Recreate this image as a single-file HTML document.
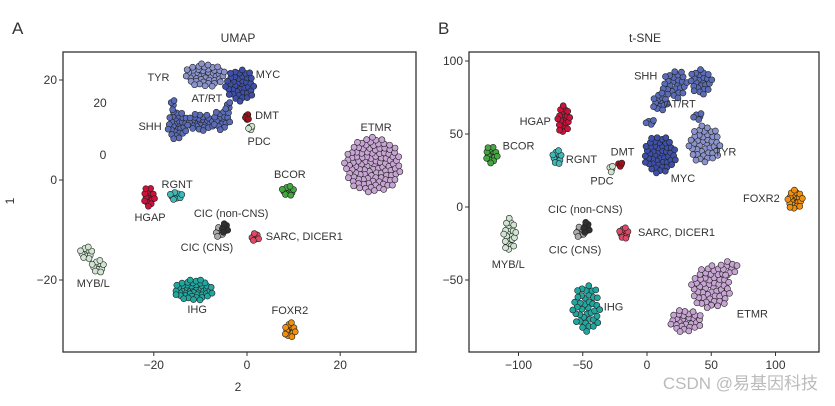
<!DOCTYPE html>
<html><head><meta charset="utf-8">
<style>
body{margin:0;background:#fff;width:835px;height:401px;overflow:hidden}
svg text{font-family:"Liberation Sans","Noto Sans CJK SC",sans-serif;fill:#333}
</style></head>
<body>
<svg id="c" width="835" height="401" viewBox="0 0 835 401">
<text x="12" y="34" font-size="17">A</text>
<text x="438" y="34" font-size="17">B</text>
<text x="238" y="42" font-size="12" text-anchor="middle">UMAP</text>
<text x="645" y="42" font-size="12" text-anchor="middle">t-SNE</text>
<text x="238" y="391" font-size="12" text-anchor="middle">2</text>
<text x="14" y="201" font-size="12" text-anchor="middle" transform="rotate(-90 14 201)">1</text>
<text x="100" y="107" font-size="12" text-anchor="middle">20</text>
<text x="103" y="159" font-size="12" text-anchor="middle">0</text>
<text x="818" y="389" font-size="17" text-anchor="end" style="fill:#bbb">CSDN @易基因科技</text>
<g id="pa"></g>
<g id="pb"></g>
</svg>
<script>
// UMAP data: blobs [group, cx, cy, rx, ry, n, color]
const umapBlobs = [
 ["TYR",-9,21,4.4,2.4,45,"#8b93cc"],
 ["MYC",-1.5,19,3.2,3.4,40,"#3d4fa8"],
 ["SHH",-15,11,2.2,3,30,"#5a6cb8"],
 ["SHH",-10,11.5,3,1.8,28,"#5a6cb8"],
 ["SHH",-5.5,12,2,2,16,"#5a6cb8"],
 ["SHH",-16,15,0.6,1.2,4,"#5a6cb8"],
 ["SHH",-4,14.5,0.6,1.5,5,"#5a6cb8"],
 ["DMT",0,12.6,0.4,0.8,6,"#a0101c"],
 ["PDC",0.8,10.4,0.5,0.5,5,"#cfe3cf"],
 ["ETMR",27,3,6.2,5.6,110,"#c8a4d4"],
 ["BCOR",8.8,-2.2,1.5,1,12,"#44a840"],
 ["HGAP",-21,-3.3,1.3,2,16,"#d0103c"],
 ["RGNT",-15.2,-3.2,1.4,0.9,10,"#40b8b8"],
 ["CIC-CNS",-5.9,-10.4,1,1.1,9,"#aaaaaa"],
 ["CIC-nonCNS",-4.7,-9.6,0.8,1,8,"#303030"],
 ["SARC",1.8,-11.4,1,0.8,8,"#e04868"],
 ["MYBL",-34.5,-14.6,1.5,1.3,12,"#cfe5d2"],
 ["MYBL",-32,-17.3,1.5,1.3,12,"#cfe5d2"],
 ["IHG",-11.5,-22,4.2,2.2,48,"#20a8a0"],
 ["FOXR2",9.2,-30,1.2,1.7,14,"#f0900c"]
];
const umapLabels = [["TYR",-19,20.6],["MYC",4.5,21.2],["AT/RT",-8.6,16.4],["SHH",-20.8,10.8],["DMT",4.3,13],["PDC",2.6,7.8],["ETMR",27.7,10.6],["BCOR",9.2,1.2],["RGNT",-15,-0.8],["HGAP",-20.8,-7.4],["CIC (non-CNS)",-3.4,-6.6],["SARC, DICER1",12.3,-11.2],["CIC (CNS)",-8.6,-13.4],["MYB/L",-33,-20.6],["IHG",-10.7,-25.8],["FOXR2",9.2,-26]];
const umapXTicks = [-20,0,20];
const umapYTicks = [20,0,-20];
// t-SNE data
const tsneBlobs = [
 ["SHH",22,84,10,10,26,"#5a6cb8"],
 ["SHH",42,86,9,9,24,"#5a6cb8"],
 ["SHH",10,72,6,7,14,"#5a6cb8"],
 ["SHH",3,58,4,2,5,"#5a6cb8"],
 ["SHH",40,62,4,3,5,"#5a6cb8"],
 ["MYC",10,36,13,13,50,"#3d4fa8"],
 ["TYR",45,43,13,13,42,"#8b93cc"],
 ["HGAP",-65,60,5,10,22,"#d0103c"],
 ["BCOR",-121,36,5,6,16,"#44a840"],
 ["RGNT",-70,34,4,5,12,"#40b8b8"],
 ["PDC",-28,26,2,2.5,4,"#cfe3cf"],
 ["DMT",-21,29,2.5,1.5,4,"#a0101c"],
 ["FOXR2",115,5,6,7,22,"#f0900c"],
 ["CIC-CNS",-52,-17,4,4,9,"#aaaaaa"],
 ["CIC-nonCNS",-47,-14,3,4,8,"#303030"],
 ["SARC",-18,-18,4,4,12,"#e04868"],
 ["MYBL",-107,-19,5,12,22,"#cfe5d2"],
 ["IHG",-47,-69,11,17,40,"#20a8a0"],
 ["ETMR",50,-55,16,15,55,"#c8a4d4"],
 ["ETMR",30,-78,13,8,30,"#c8a4d4"],
 ["ETMR",64,-42,7,6,10,"#c8a4d4"]
];
const tsneLabels = [["SHH",-1,90],["AT/RT",26,71],["HGAP",-87,59],["BCOR",-100,42],["RGNT",-51,33],["DMT",-19,38],["PDC",-35,18],["MYC",28,20],["TYR",61,38],["FOXR2",89,6],["CIC (non-CNS)",-48,-1.5],["SARC, DICER1",23,-17],["CIC (CNS)",-56,-29],["MYB/L",-108,-39],["IHG",-26,-68],["ETMR",82,-73]];
const tsneXTicks = [-100,-50,0,50,100];
const tsneYTicks = [100,50,0,-50];

const NS="http://www.w3.org/2000/svg";
function mk(t,a,p){const e=document.createElementNS(NS,t);for(const k in a)e.setAttribute(k,a[k]);p.appendChild(e);return e;}
function panel(g,box,xs,ys,blobs,labels,xt,yt,pre){
 const [L,T,R,B]=box;
 const X=v=>xs[0]+v*xs[1], Y=v=>ys[0]-v*ys[1];
 const frame=mk("rect",{x:L,y:T,width:R-L,height:B-T,fill:"none",stroke:"#333","stroke-width":1.3},g);
 
 
 xt.forEach(v=>{
  const l=mk("line",{x1:X(v),x2:X(v),y1:B,y2:B+4,stroke:"#333"},g);
  
  
  const t=mk("text",{x:X(v),y:B+17,"font-size":12,"text-anchor":"middle"},g);t.textContent=String(v).replace("-","\u2212");
  
  
 });
 yt.forEach(v=>{
  const l=mk("line",{x1:L-4,x2:L,y1:Y(v),y2:Y(v),stroke:"#333"},g);
  
  
  const t=mk("text",{x:L-6,y:Y(v)+4,"font-size":12,"text-anchor":"end"},g);t.textContent=String(v).replace("-","\u2212");
  
  
 });
 const ga=Math.PI*(3-Math.sqrt(5));
 blobs.forEach(b=>{
  const [grp,cx,cy,rx,ry,n,col]=b;
  for(let i=0;i<n;i++){
   const r=Math.sqrt((i+0.5)/n), a=i*ga;
   const c=mk("circle",{cx:X(cx+rx*r*Math.cos(a)),cy:Y(cy+ry*r*Math.sin(a)),r:3,fill:col,stroke:"#222","stroke-width":0.6},g);
   
   
  }
 });
 labels.forEach(l=>{
  const t=mk("text",{x:X(l[1]),y:Y(l[2])+4,"font-size":11,"text-anchor":"middle"},g);t.textContent=l[0];
  
  
 });
}
panel(document.getElementById("pa"),[63,52,416,352],[247,4.66],[180,5],umapBlobs,umapLabels,umapXTicks,umapYTicks,"umap");
panel(document.getElementById("pb"),[469,52,819,352],[647,1.285],[207,1.46],tsneBlobs,tsneLabels,tsneXTicks,tsneYTicks,"tsne");
</script>
</body></html>
